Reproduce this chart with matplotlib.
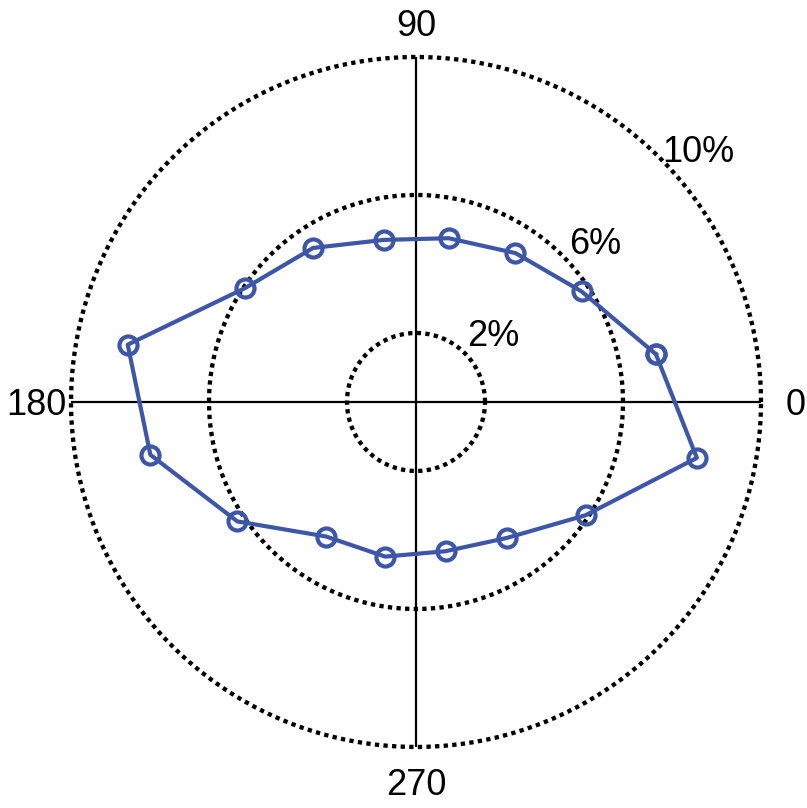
import numpy as np
import matplotlib.pyplot as plt

plt.rcParams['font.family'] = ['Liberation Sans', 'DejaVu Sans']

# direction bins (deg) and share of observations (%)
DIRECTIONS = [11.25, 33.75, 56.25, 78.75, 101.25, 123.75, 146.25, 168.75,
              191.25, 213.75, 236.25, 258.75, 281.25, 303.75, 326.25, 348.75]
SHARE = [7.09, 5.77, 5.19, 4.84, 4.79, 5.37, 5.95, 8.52,
         7.85, 6.23, 4.69, 4.57, 4.41, 4.74, 5.91, 8.30]

RTICKS = [2, 6, 10]
THETA_TICKS = [0, 90, 180, 270]

fig = plt.figure(figsize=(8.07, 8.08), dpi=100)
ax = fig.add_axes([0.0880, 0.0755, 0.855, 0.854], projection='polar')

# dotted range rings
ring = np.linspace(0, 2 * np.pi, 400)
for v in RTICKS:
    ax.plot(ring, np.full_like(ring, v), color='black', lw=3.1,
            ls=(0, (1, 1)), clip_on=False, zorder=1)
    ax.text(np.deg2rad(42), v + 1, f'{v}%', fontsize=26,
            ha='center', va='center_baseline')

# closed loop through the bins
th = np.deg2rad(DIRECTIONS + DIRECTIONS[:1])
r = SHARE + SHARE[:1]
ax.plot(th, r, color='#3d56a8', lw=3, marker='o', ms=13,
        mfc='none', mec='#3d56a8', mew=3, zorder=3)

ax.set_ylim(0, 10)
ax.set_yticks([])
ax.set_xticks(np.deg2rad(THETA_TICKS))
ax.set_xticklabels([])
ax.xaxis.grid(True, color='black', ls='-', lw=1.6)
ax.spines['polar'].set_visible(False)

# angle labels just outside the outer ring
for t in THETA_TICKS:
    ax.text(np.deg2rad(t), 11.0, str(t), fontsize=26,
            ha='center', va='center_baseline', clip_on=False)

fig.savefig('out.png', dpi=100)
